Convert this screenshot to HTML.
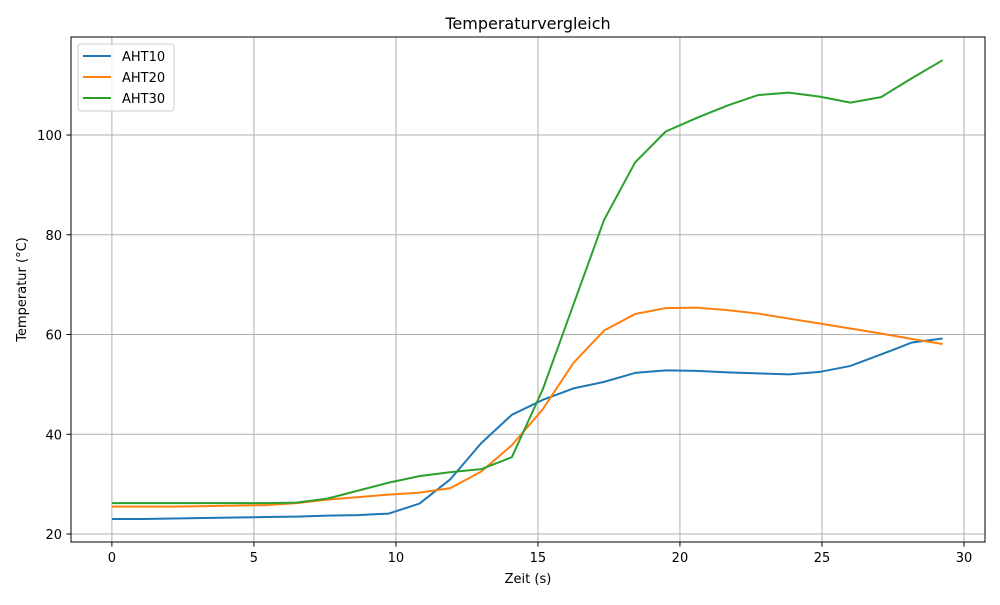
<!DOCTYPE html>
<html><head><meta charset="utf-8"><style>
body{margin:0;background:#fff;font-family:"Liberation Sans","DejaVu Sans",sans-serif}
</style></head><body>
<svg id="chart" width="1000" height="600" xmlns="http://www.w3.org/2000/svg" font-family="DejaVu Sans, Liberation Sans, sans-serif"></svg>
<script>
const times = [0,1.083,2.167,3.25,4.333,5.417,6.5,7.583,8.667,9.75,10.83,11.92,13.0,14.08,15.17,16.25,17.33,18.42,19.5,20.58,21.67,22.75,23.83,24.92,26.0,27.08,28.17,29.25];
const aht10 = [23.0,23.0,23.1,23.2,23.3,23.4,23.5,23.7,23.8,24.1,26.1,31.0,38.2,43.9,46.9,49.2,50.5,52.3,52.8,52.7,52.4,52.2,52.0,52.5,53.7,56.0,58.4,59.2];
const aht20 = [25.5,25.5,25.5,25.6,25.7,25.8,26.2,26.9,27.4,27.9,28.3,29.2,32.5,37.8,45.0,54.3,60.8,64.1,65.3,65.4,64.9,64.2,63.2,62.2,61.2,60.2,59.1,58.1];
const aht30 = [26.2,26.2,26.2,26.2,26.2,26.2,26.3,27.1,28.7,30.3,31.6,32.4,33.0,35.4,49.0,66.0,83.0,94.5,100.7,103.4,105.9,108.0,108.5,107.7,106.5,107.6,111.4,115.0];
const xTicks = [0,5,10,15,20,25,30];
const yTicks = [20,40,60,80,100];
const seriesNames = ["AHT10","AHT20","AHT30"];
const colors = ["#1f77b4","#ff7f0e","#2ca02c"];

const L=71,R=985,T=37,B=542;
const xMin=-1.44,xMax=30.74,yMin=18.4,yMax=119.65;
const sx=v=>L+(v-xMin)/(xMax-xMin)*(R-L);
const sy=v=>B-(v-yMin)/(yMax-yMin)*(B-T);
const svg=document.getElementById('chart');
const NS="http://www.w3.org/2000/svg";
function mk(tag,attrs,parent){const e=document.createElementNS(NS,tag);for(const k in attrs)e.setAttribute(k,attrs[k]);(parent||svg).appendChild(e);return e;}

const grid=mk('g',{});


xTicks.forEach(t=>{
  const l=mk('line',{x1:sx(t),x2:sx(t),y1:T,y2:B,stroke:'#b0b0b0','stroke-width':1},grid);
  
  
  const tk=mk('line',{x1:sx(t),x2:sx(t),y1:B,y2:B+4.5,stroke:'#000','stroke-width':1});
  
  
  const tx=mk('text',{x:sx(t),y:B+20,'text-anchor':'middle','font-size':13,fill:'#000'});
  tx.textContent=t;
  
  
});
yTicks.forEach(t=>{
  const l=mk('line',{x1:L,x2:R,y1:sy(t),y2:sy(t),stroke:'#b0b0b0','stroke-width':1},grid);
  
  
  const tk=mk('line',{x1:L-4.5,x2:L,y1:sy(t),y2:sy(t),stroke:'#000','stroke-width':1});
  
  
  const tx=mk('text',{x:L-9,y:sy(t)+5,'text-anchor':'end','font-size':13,fill:'#000'});
  tx.textContent=t;
  
  
});

[aht10,aht20,aht30].forEach((vals,i)=>{
  const p=mk('polyline',{points:vals.map((v,j)=>sx(times[j])+','+sy(v)).join(' '),fill:'none',stroke:colors[i],'stroke-width':2,'stroke-linejoin':'round'});
  
  
});

const frame=mk('rect',{x:L,y:T,width:R-L,height:B-T,fill:'none',stroke:'#000','stroke-width':1});



const title=mk('text',{x:(L+R)/2,y:29,'text-anchor':'middle','font-size':16,fill:'#000'});
title.textContent='Temperaturvergleich';


const xl=mk('text',{x:(L+R)/2,y:583,'text-anchor':'middle','font-size':13,fill:'#000'});
xl.textContent='Zeit (s)';


const yl=mk('text',{x:0,y:0,'text-anchor':'middle','font-size':13,fill:'#000',transform:'translate(26,'+((T+B)/2)+') rotate(-90)'});
yl.textContent='Temperatur (°C)';



const leg=mk('g',{});


mk('rect',{x:78,y:44,width:96,height:67,rx:3,fill:'#fff','fill-opacity':0.8,stroke:'#ccc','stroke-width':1},leg);
seriesNames.forEach((n,i)=>{
  const y=56+i*21;
  const ln=mk('line',{x1:83,x2:111,y1:y,y2:y,stroke:colors[i],'stroke-width':2},leg);
  
  
  const tx=mk('text',{x:122,y:y+5,'font-size':13,fill:'#000'},leg);
  tx.textContent=n;
  
  
});
</script>
</body></html>
